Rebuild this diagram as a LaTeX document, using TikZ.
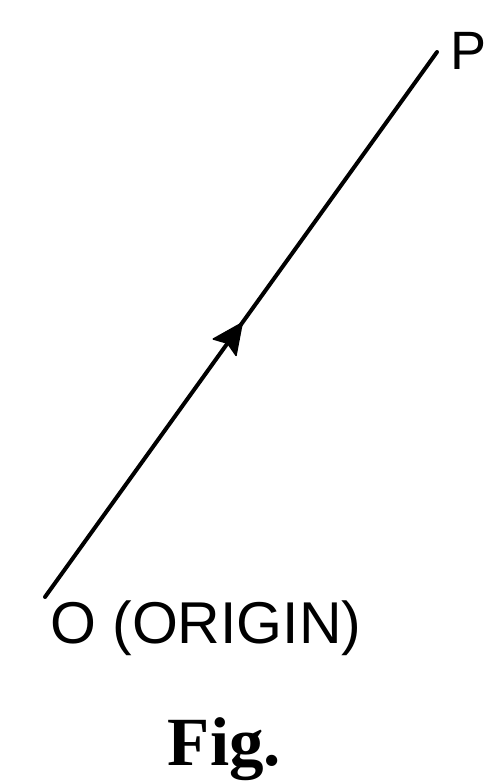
\documentclass[tikz,border=0pt]{standalone}
\usepackage{fontspec}
\setmainfont{Liberation Serif}
\newfontfamily\labelfont{Liberation Sans}
\usetikzlibrary{calc}
\begin{document}
\begin{tikzpicture}[x=1pt,y=-1pt,
  vec/.style={line width=4pt,line cap=round},
  head/.style={fill=black,draw=black,line width=1.5pt,line join=round},
  lbl/.style={inner sep=0pt,font=\labelfont\fontsize{59}{59}\selectfont},
  figcaption/.style={inner sep=0pt,font=\bfseries\fontsize{69}{69}\selectfont}]
\useasboundingbox (0,0) rectangle (487,781);
\coordinate (O) at (45,597);
\coordinate (P) at (437,52);
\coordinate (T) at ($(O)!0.503!(P)$);
\coordinate (B) at ($(T)!30pt!(O)$);
\coordinate (I) at ($(T)!25pt!(O)$);
\coordinate (W1) at ($(B)!14pt!90:(T)$);
\coordinate (W2) at ($(B)!14pt!-90:(T)$);
\draw[vec] (O) -- (P);
\path[head] (T) -- (W1) -- (I) -- (W2) -- cycle;
\node[lbl,anchor=base west] (olbl) at (50,643) {O (ORIGIN)};
\node[lbl,anchor=base east,font=\labelfont\fontsize{54}{54}\selectfont] (plbl) at (486.5,70) {P};
\node[figcaption,anchor=base] (fig) at (224.5,765) {Fig.};
\end{tikzpicture}
\end{document}
